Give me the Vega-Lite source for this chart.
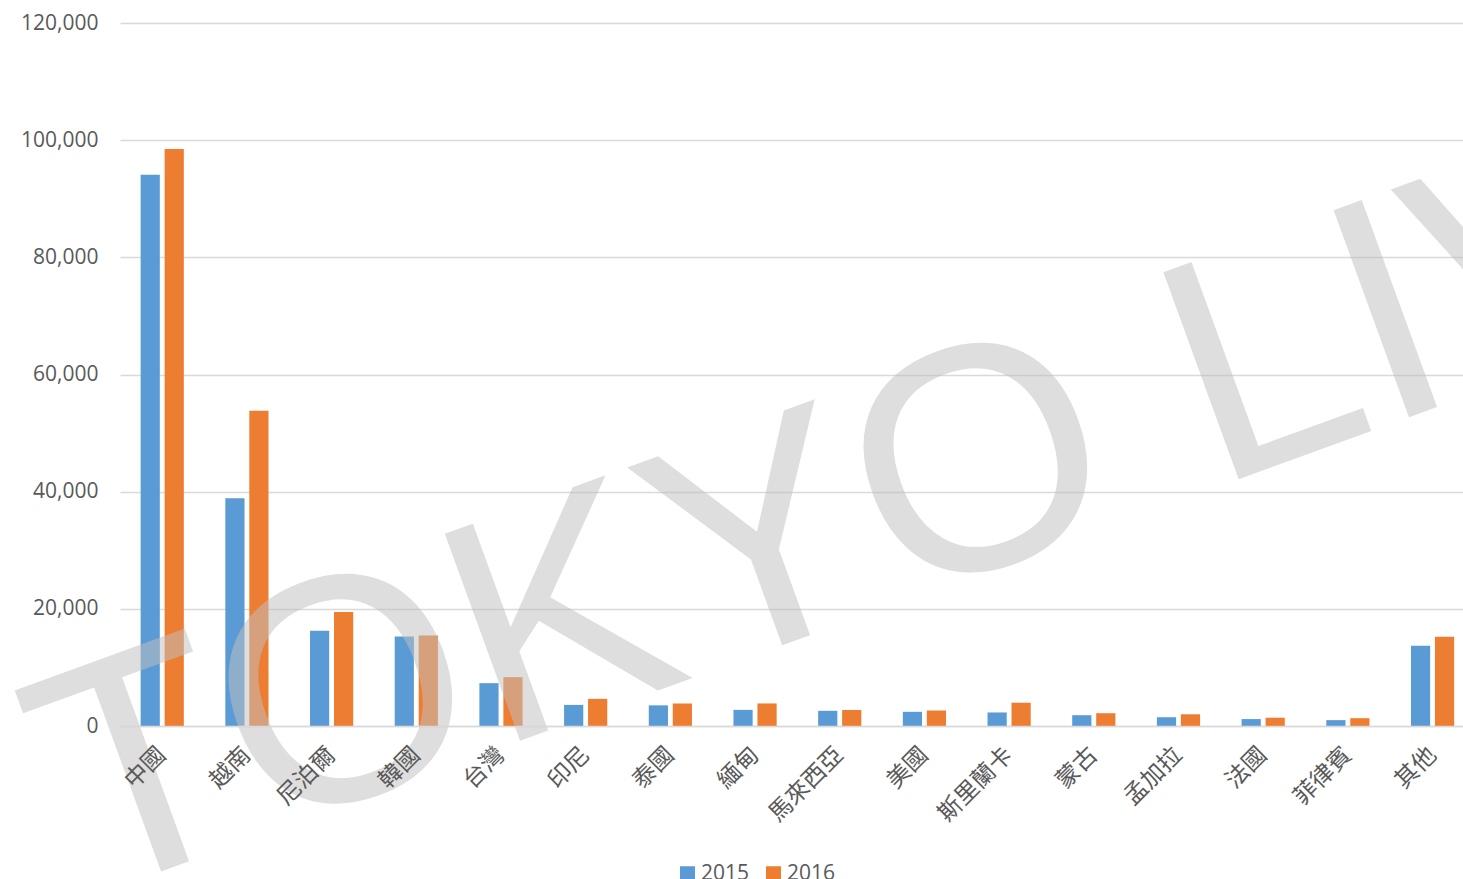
{
  "$schema": "https://vega.github.io/schema/vega-lite/v6.json",
  "width": 1343,
  "height": 703,
  "autosize": {"type": "none"},
  "padding": {"left": 120, "top": 23, "right": 0, "bottom": 153},
  "background": "white",
  "config": {
    "view": {"stroke": null},
    "font": "Open Sans"
  },
  "layer": [
    {
      "data": {
        "values": [
          {"country": "中國", "year": "2015", "students": 94111},
          {"country": "中國", "year": "2016", "students": 98483},
          {"country": "越南", "year": "2015", "students": 38882},
          {"country": "越南", "year": "2016", "students": 53807},
          {"country": "尼泊爾", "year": "2015", "students": 16250},
          {"country": "尼泊爾", "year": "2016", "students": 19471},
          {"country": "韓國", "year": "2015", "students": 15279},
          {"country": "韓國", "year": "2016", "students": 15457},
          {"country": "台灣", "year": "2015", "students": 7314},
          {"country": "台灣", "year": "2016", "students": 8330},
          {"country": "印尼", "year": "2015", "students": 3600},
          {"country": "印尼", "year": "2016", "students": 4630},
          {"country": "泰國", "year": "2015", "students": 3526},
          {"country": "泰國", "year": "2016", "students": 3842},
          {"country": "緬甸", "year": "2015", "students": 2755},
          {"country": "緬甸", "year": "2016", "students": 3851},
          {"country": "馬來西亞", "year": "2015", "students": 2594},
          {"country": "馬來西亞", "year": "2016", "students": 2734},
          {"country": "美國", "year": "2015", "students": 2423},
          {"country": "美國", "year": "2016", "students": 2648},
          {"country": "斯里蘭卡", "year": "2015", "students": 2312},
          {"country": "斯里蘭卡", "year": "2016", "students": 3976},
          {"country": "蒙古", "year": "2015", "students": 1843},
          {"country": "蒙古", "year": "2016", "students": 2184},
          {"country": "孟加拉", "year": "2015", "students": 1500},
          {"country": "孟加拉", "year": "2016", "students": 2000},
          {"country": "法國", "year": "2015", "students": 1183},
          {"country": "法國", "year": "2016", "students": 1415},
          {"country": "菲律賓", "year": "2015", "students": 1001},
          {"country": "菲律賓", "year": "2016", "students": 1332},
          {"country": "其他", "year": "2015", "students": 13718},
          {"country": "其他", "year": "2016", "students": 15218}
        ]
      },
      "mark": {"type": "bar"},
      "encoding": {
        "x": {
          "field": "country",
          "type": "nominal",
          "sort": null,
          "scale": {"paddingInner": 0.49, "paddingOuter": 0.174, "align": 0.7},
          "axis": {
            "title": null,
            "labelAngle": -45,
            "labelAlign": "right",
            "labelBaseline": "middle",
            "labelFont": "Noto Sans CJK TC",
            "labelFontSize": 23.5,
            "labelColor": "#595959",
            "labelPadding": 25,
            "ticks": false,
            "domainColor": "#d9d9d9",
            "domainWidth": 1.5,
            "zindex": 1
          }
        },
        "xOffset": {
          "field": "year",
          "type": "nominal",
          "scale": {"paddingInner": 0.2}
        },
        "y": {
          "field": "students",
          "type": "quantitative",
          "scale": {"domain": [0, 120000], "nice": false},
          "axis": {
            "title": null,
            "values": [0, 20000, 40000, 60000, 80000, 100000, 120000],
            "format": ",d",
            "labelFontSize": 21,
            "labelColor": "#595959",
            "labelPadding": 22,
            "ticks": false,
            "domain": false,
            "gridColor": "#d9d9d9",
            "gridWidth": 1.5
          }
        },
        "color": {
          "field": "year",
          "type": "nominal",
          "scale": {"domain": ["2015", "2016"], "range": ["#5B9BD5", "#ED7D31"]},
          "legend": {
            "title": null,
            "orient": "none",
            "direction": "horizontal",
            "legendX": 557,
            "legendY": 840,
            "symbolType": "square",
            "symbolSize": 225,
            "symbolStrokeWidth": 0,
            "labelFontSize": 21,
            "labelColor": "#595959",
            "labelOffset": 3,
            "columnPadding": 13
          }
        }
      }
    },
    {
      "data": {"values": [{"country": "中國", "students": -24750, "mark": "TOKYO LIVING"}]},
      "mark": {
        "type": "text",
        "font": "Liberation Sans",
        "fontSize": 320,
        "angle": -20,
        "align": "left",
        "baseline": "alphabetic",
        "dx": -84,
        "color": "#c0c0c0",
        "opacity": 0.52
      },
      "encoding": {
        "x": {"field": "country", "type": "nominal", "sort": null},
        "y": {"field": "students", "type": "quantitative"},
        "text": {"field": "mark"}
      }
    }
  ]
}
